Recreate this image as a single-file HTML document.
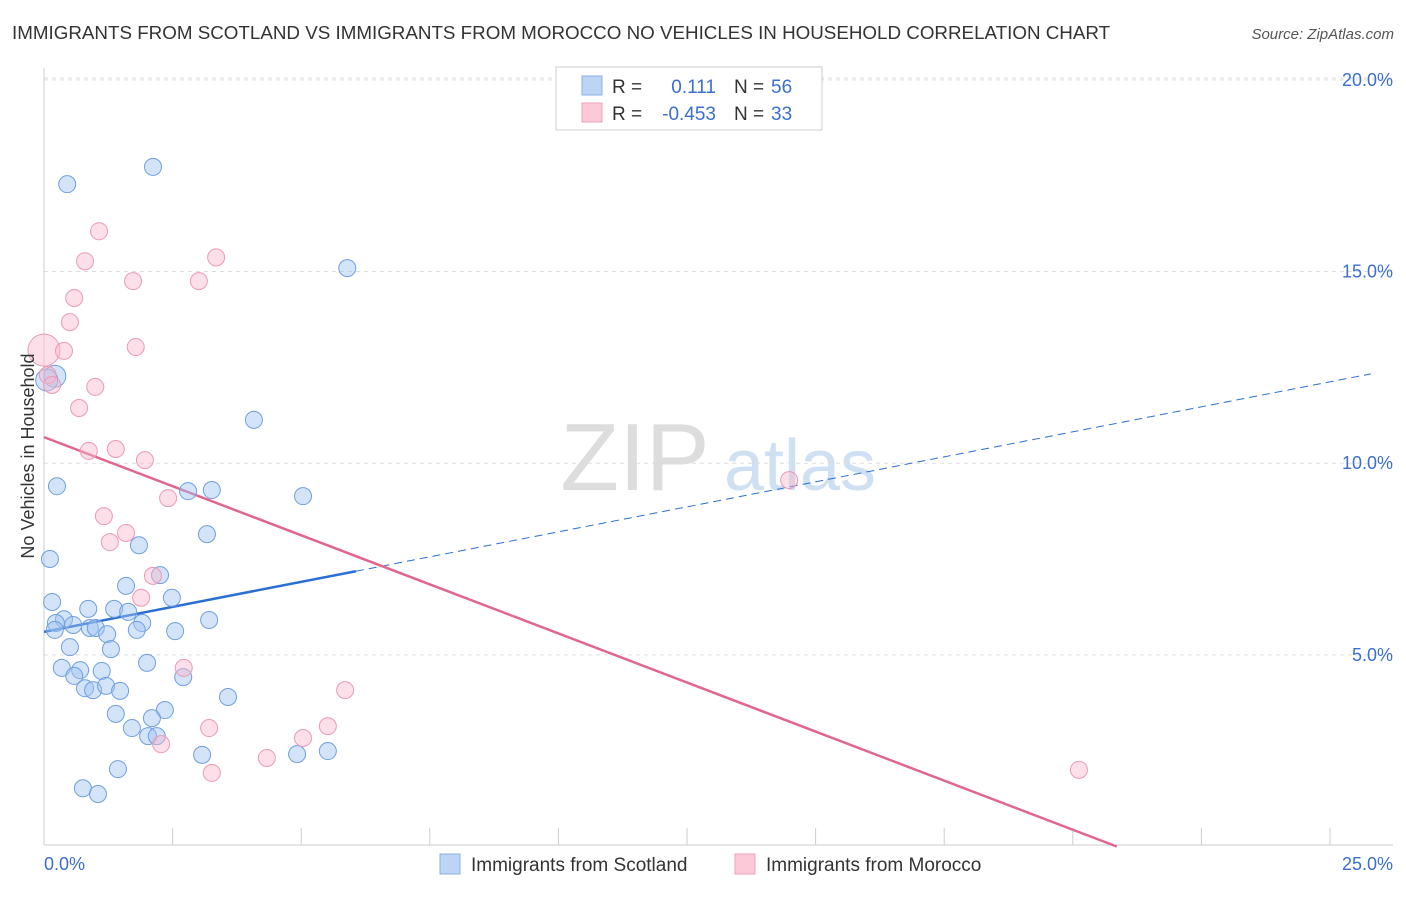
<!DOCTYPE html>
<html><head><meta charset="utf-8"><style>
body{margin:0;background:#fff;font-family:"Liberation Sans",sans-serif;}
svg text{font-family:"Liberation Sans",sans-serif;}
</style></head><body>
<svg id="chart" width="1406" height="892" viewBox="0 0 1406 892">
<text x="12" y="39" font-size="18.8" fill="#333">IMMIGRANTS FROM SCOTLAND VS IMMIGRANTS FROM MOROCCO NO VEHICLES IN HOUSEHOLD CORRELATION CHART</text>
<text x="1394" y="39" font-size="15" fill="#555" text-anchor="end" font-style="italic">Source: ZipAtlas.com</text>
<g>
<text x="635" y="490" font-size="96" fill="#ddd" text-anchor="middle" font-family="Liberation Serif">ZIP</text>
<text x="800" y="490" font-size="72" fill="#cfe0f3" text-anchor="middle">atlas</text>
</g>
<g id="grid"></g><g id="axes"></g><g id="trends"></g><g id="pts"></g>
<text transform="translate(34,456) rotate(-90)" font-size="18" fill="#333" text-anchor="middle">No Vehicles in Household</text>
<g>
<rect x="556" y="67" width="266" height="63" fill="#fff" stroke="#ccc"/>
<rect x="582" y="76" width="20" height="19" fill="#bcd5f5" stroke="#8ab0e6"/>
<rect x="582" y="103" width="20" height="19" fill="#fbc9d8" stroke="#eea3bb"/>
<text x="612" y="93" font-size="19" fill="#333">R =</text>
<text x="716" y="93" font-size="19" fill="#3a6fd0" text-anchor="end">0.111</text>
<text x="734" y="93" font-size="19" fill="#333">N =</text>
<text x="771" y="93" font-size="19" fill="#3a6fd0">56</text>
<text x="612" y="120" font-size="19" fill="#333">R =</text>
<text x="716" y="120" font-size="19" fill="#3a6fd0" text-anchor="end">-0.453</text>
<text x="734" y="120" font-size="19" fill="#333">N =</text>
<text x="771" y="120" font-size="19" fill="#3a6fd0">33</text>
</g>
<g>
<rect x="440" y="854" width="20" height="20" fill="#bcd5f5" stroke="#8ab0e6"/>
<text x="471" y="871" font-size="19" fill="#333">Immigrants from Scotland</text>
<rect x="735" y="854" width="20" height="20" fill="#fbc9d8" stroke="#eea3bb"/>
<text x="766" y="871" font-size="19" fill="#333">Immigrants from Morocco</text>
</g>
</svg>
<script>
const yTicks=[5,10,15,20];
const yTickLabels=["5.0%","10.0%","15.0%","20.0%"];
const xAxisLabels=["0.0%","25.0%"];
const scotX=[0.43,2.02,5.62,3.89,0.24,2.67,3.11,4.80,3.02,1.76,0.11,1.52,2.15,0.15,1.30,1.56,2.37,0.37,0.82,0.22,0.54,0.85,1.82,3.06,0.20,0.96,1.17,1.72,2.43,0.48,1.24,1.91,0.33,0.67,1.07,0.56,2.58,0.76,0.91,1.15,1.41,3.41,1.33,2.24,2.00,1.63,1.93,2.09,2.93,4.69,5.26,1.37,0.72,1.00,0.20,0.05];
const scotY=[17.28,17.73,15.09,11.13,9.40,9.27,9.30,9.14,8.15,7.86,7.50,6.80,7.08,6.38,6.20,6.12,6.49,5.93,6.20,5.83,5.78,5.70,5.83,5.91,5.65,5.70,5.54,5.65,5.62,5.20,5.15,4.79,4.66,4.60,4.58,4.45,4.42,4.13,4.08,4.19,4.06,3.90,3.46,3.56,3.35,3.09,2.88,2.88,2.39,2.41,2.49,2.02,1.52,1.37,12.27,12.17];
const morX=[0.00,0.07,0.15,0.37,0.48,0.56,0.76,1.02,3.19,1.65,2.87,1.70,0.95,0.65,0.83,1.33,1.87,2.30,1.11,1.22,1.52,2.02,1.80,2.59,5.58,3.06,2.17,4.80,5.26,4.13,3.11,13.81,19.18];
const morY=[12.95,12.30,12.04,12.93,13.68,14.31,15.27,16.05,15.37,14.75,14.75,13.03,11.99,11.44,10.32,10.37,10.08,9.09,8.62,7.94,8.18,7.06,6.49,4.66,4.08,3.09,2.67,2.83,3.14,2.31,1.92,9.56,2.00];
const scotTrend=[5.60,0.2737];
const morTrend=[10.68,-0.5372];
const NS="http://www.w3.org/2000/svg";
const X0=44,X1=1393,XMAX=25,Y0=846.5,PXY=38.33;
const sx=v=>X0+v/XMAX*(X1-X0), sy=v=>Y0-v*PXY;
function mk(tag,attrs,parent){const e=document.createElementNS(NS,tag);for(const k in attrs)e.setAttribute(k,attrs[k]);parent.appendChild(e);return e;}
const grid=document.getElementById('grid'),axes=document.getElementById('axes'),trends=document.getElementById('trends'),pts=document.getElementById('pts');
yTicks.forEach((t,i)=>{
 const l=mk('line',{x1:44,x2:1393,y1:sy(t),y2:sy(t),stroke:'#ddd','stroke-dasharray':'4,4'},grid);
 
 
 const tx=mk('text',{x:1393,y:sy(t)+6,'font-size':18,fill:'#3a6fd0','text-anchor':'end'},axes);
 tx.textContent=yTickLabels[i];
 
 
});
const topLine=mk('line',{x1:44,x2:1393,y1:78,y2:78,stroke:'#ddd','stroke-dasharray':'4,4'},grid);


const ya=mk('line',{x1:44,x2:44,y1:68,y2:845,stroke:'#ccc'},axes);


const xa=mk('line',{x1:44,x2:1393,y1:845,y2:845,stroke:'#ccc'},axes);


for(let i=0;i<=10;i++){const x=44+i*128.6;const t=mk('line',{x1:x,x2:x,y1:828,y2:845,stroke:'#ccc'},axes);
 
 }
const xl0=mk('text',{x:44,y:870,'font-size':18,fill:'#3a6fd0'},axes);xl0.textContent=xAxisLabels[0];


const xl1=mk('text',{x:1393,y:870,'font-size':18,fill:'#3a6fd0','text-anchor':'end'},axes);xl1.textContent=xAxisLabels[1];


const bSolidEnd=5.78,bEnd=24.59;
const b1=mk('line',{x1:sx(0),y1:sy(scotTrend[0]),x2:sx(bSolidEnd),y2:sy(scotTrend[0]+scotTrend[1]*bSolidEnd),stroke:'#2b6fd4','stroke-width':2.5},trends);


const b2=mk('line',{x1:sx(bSolidEnd),y1:sy(scotTrend[0]+scotTrend[1]*bSolidEnd),x2:sx(bEnd),y2:sy(scotTrend[0]+scotTrend[1]*bEnd),stroke:'#2b6fd4','stroke-width':1,'stroke-dasharray':'8,5'},trends);


const mEnd=-morTrend[0]/morTrend[1];
const m1=mk('line',{x1:sx(0),y1:sy(morTrend[0]),x2:sx(mEnd),y2:sy(morTrend[0]+morTrend[1]*mEnd),stroke:'#e06690','stroke-width':2.5},trends);


scotX.forEach((v,i)=>{const r=(i>=54)?11:8.5;const c=mk('circle',{cx:sx(v),cy:sy(scotY[i]),r:r,fill:'rgba(160,195,240,0.45)',stroke:'#6f9fe0','stroke-width':1},pts);
 
 });
morX.forEach((v,i)=>{const r=(i==0)?16:8.5;const c=mk('circle',{cx:sx(v),cy:sy(morY[i]),r:r,fill:'rgba(248,185,205,0.45)',stroke:'#ec9ab5','stroke-width':1},pts);
 
 });
</script>
</body></html>
